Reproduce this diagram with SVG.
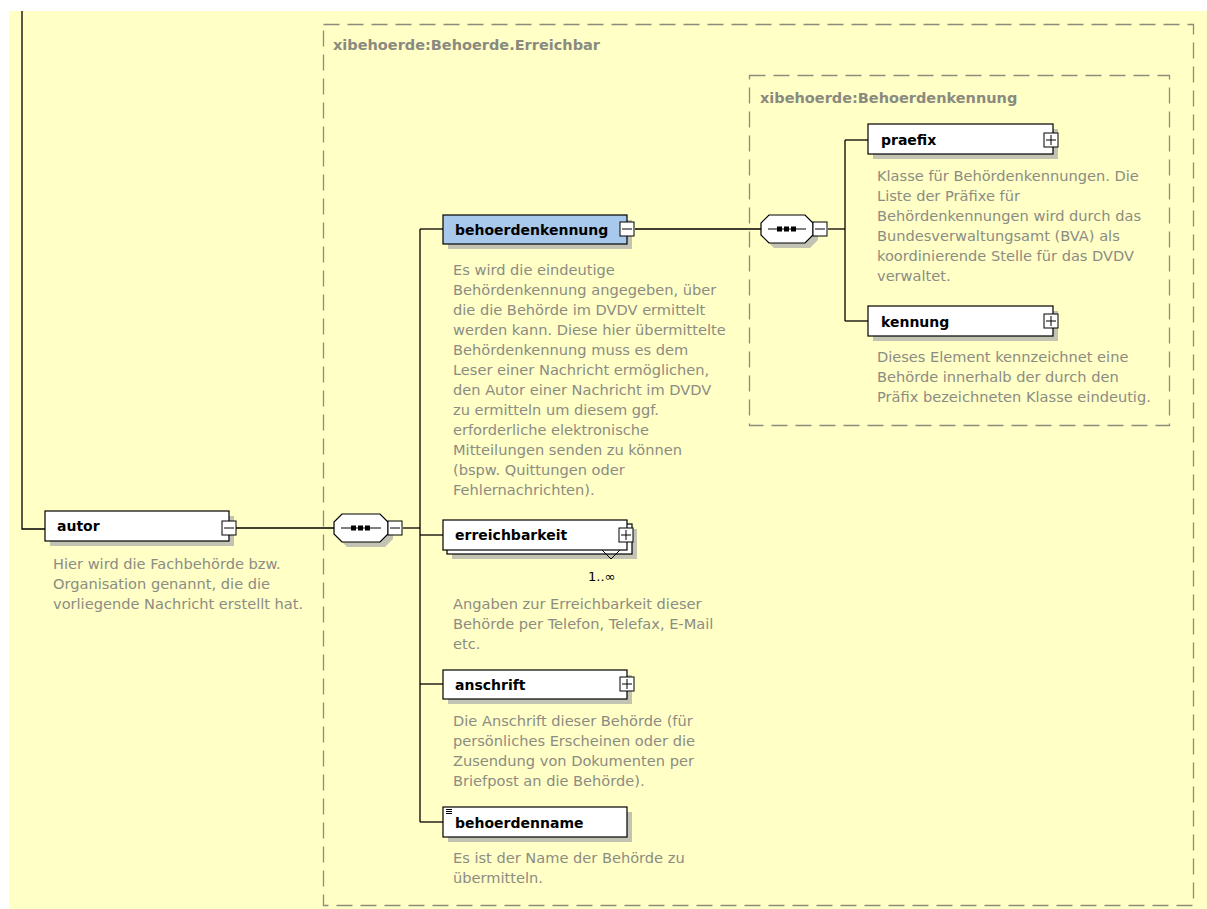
<svg xmlns="http://www.w3.org/2000/svg" width="1207" height="909" viewBox="0 0 1207 909">
  <style>
    .bg { fill: #ffffc6; }
    .frame { fill: none; stroke: #8c8c7c; stroke-width: 1.3; stroke-dasharray: 16 8; }
    .frame-label { font-family: "DejaVu Sans", sans-serif; font-size: 14.5px; font-weight: bold; fill: #8a8a80; }
    .shadow { fill: #c3c3b4; }
    .el { fill: #ffffff; stroke: #000000; stroke-width: 1.2; }
    .el-sel { fill: #a8c8ec; stroke: #000000; stroke-width: 1.2; }
    .name { font-family: "DejaVu Sans", sans-serif; font-size: 14px; font-weight: bold; fill: #000000; }
    .doc { font-family: "DejaVu Sans", sans-serif; font-size: 14.6px; fill: #8c8c84; }
    .btn { fill: #ffffff; stroke: #000000; stroke-width: 1; }
    .sign { stroke: #000000; stroke-width: 1; fill: none; }
    .wire { fill: none; stroke: #000000; stroke-width: 1.3; }
    .card { font-family: "DejaVu Sans", sans-serif; font-size: 13px; fill: #000000; }
  </style>

  <rect class="bg" x="9" y="11" width="1198" height="898"/>

  <!-- group frames -->
  <g id="group-erreichbar">
    <rect class="frame" x="323.5" y="24.5" width="870" height="881"/>
    <text class="frame-label" x="333" y="50">xibehoerde:Behoerde.Erreichbar</text>
  </g>
  <g id="group-kennung">
    <rect class="frame" x="749.5" y="75.5" width="420" height="350"/>
    <text class="frame-label" x="760" y="103">xibehoerde:Behoerdenkennung</text>
  </g>

  <!-- connectors -->
  <g id="connectors">
    <polyline class="wire" points="22,11 22,529 45,529"/>
    <line class="wire" x1="236" y1="528" x2="334" y2="528"/>
    <polyline class="wire" points="403,528 420,528"/>
    <line class="wire" x1="420" y1="229" x2="420" y2="822"/>
    <line class="wire" x1="420" y1="229" x2="443" y2="229"/>
    <line class="wire" x1="420" y1="535" x2="443" y2="535"/>
    <line class="wire" x1="420" y1="684" x2="443" y2="684"/>
    <line class="wire" x1="420" y1="822" x2="443" y2="822"/>
    <line class="wire" x1="635" y1="229" x2="761" y2="229"/>
    <line class="wire" x1="828" y1="229" x2="845" y2="229"/>
    <line class="wire" x1="845" y1="140" x2="845" y2="321"/>
    <line class="wire" x1="845" y1="140" x2="868" y2="140"/>
    <line class="wire" x1="845" y1="321" x2="868" y2="321"/>
  </g>

  <!-- autor -->
  <g id="node-autor">
    <rect class="shadow" x="50" y="516" width="184" height="30"/>
    <rect class="el" x="45" y="511" width="184" height="30"/>
    <text class="name" x="57" y="531">autor</text>
    <rect class="btn" x="222" y="521" width="14" height="14"/>
    <line class="sign" x1="224" y1="528" x2="234" y2="528"/>
    <text class="doc" x="53" y="569">Hier wird die Fachbehörde bzw.</text>
    <text class="doc" x="53" y="589">Organisation genannt, die die</text>
    <text class="doc" x="53" y="609">vorliegende Nachricht erstellt hat.</text>
  </g>

  <!-- sequence of autor -->
  <g id="seq-autor">
    <polygon class="shadow" points="347,519 385,519 393,527 393,539 385,547 347,547 339,539 339,527"/>
    <polygon class="el" points="342,514 380,514 388,522 388,534 380,542 342,542 334,534 334,522"/>
    <line class="sign" x1="341" y1="528" x2="381" y2="528" stroke-width="1.5"/>
    <rect x="351" y="525.5" width="5" height="5" fill="#000"/>
    <rect x="358" y="525.5" width="5" height="5" fill="#000"/>
    <rect x="365" y="525.5" width="5" height="5" fill="#000"/>
    <rect class="btn" x="388" y="521" width="14" height="14"/>
    <line class="sign" x1="390" y1="528" x2="400" y2="528"/>
  </g>

  <!-- behoerdenkennung -->
  <g id="node-behoerdenkennung">
    <rect class="shadow" x="448" y="220" width="184" height="29"/>
    <rect class="el-sel" x="443" y="215" width="184" height="29"/>
    <text class="name" x="455" y="235">behoerdenkennung</text>
    <rect class="btn" x="620" y="222" width="14" height="14"/>
    <line class="sign" x1="622" y1="229" x2="632" y2="229"/>
    <text class="doc" x="453" y="275">Es wird die eindeutige</text>
    <text class="doc" x="453" y="295">Behördenkennung angegeben, über</text>
    <text class="doc" x="453" y="315">die die Behörde im DVDV ermittelt</text>
    <text class="doc" x="453" y="335">werden kann. Diese hier übermittelte</text>
    <text class="doc" x="453" y="355">Behördenkennung muss es dem</text>
    <text class="doc" x="453" y="375">Leser einer Nachricht ermöglichen,</text>
    <text class="doc" x="453" y="395">den Autor einer Nachricht im DVDV</text>
    <text class="doc" x="453" y="415">zu ermitteln um diesem ggf.</text>
    <text class="doc" x="453" y="435">erforderliche elektronische</text>
    <text class="doc" x="453" y="455">Mitteilungen senden zu können</text>
    <text class="doc" x="453" y="475">(bspw. Quittungen oder</text>
    <text class="doc" x="453" y="495">Fehlernachrichten).</text>
  </g>

  <!-- sequence of behoerdenkennung -->
  <g id="seq-kennung">
    <polygon class="shadow" points="774,220 810,220 818,228 818,240 810,248 774,248 766,240 766,228"/>
    <polygon class="el" points="769,215 805,215 813,223 813,235 805,243 769,243 761,235 761,223"/>
    <line class="sign" x1="768" y1="229" x2="806" y2="229" stroke-width="1.5"/>
    <rect x="777" y="226.5" width="5" height="5" fill="#000"/>
    <rect x="784" y="226.5" width="5" height="5" fill="#000"/>
    <rect x="791" y="226.5" width="5" height="5" fill="#000"/>
    <rect class="btn" x="813" y="222" width="14" height="14"/>
    <line class="sign" x1="815" y1="229" x2="825" y2="229"/>
  </g>

  <!-- praefix -->
  <g id="node-praefix">
    <rect class="shadow" x="873" y="129" width="185" height="30"/>
    <rect class="el" x="868" y="124" width="185" height="30"/>
    <text class="name" x="881" y="145">praefix</text>
    <rect class="btn" x="1044" y="133" width="14" height="14"/>
    <line class="sign" x1="1046" y1="140" x2="1056" y2="140"/>
    <line class="sign" x1="1051" y1="135" x2="1051" y2="145"/>
    <text class="doc" x="877" y="181">Klasse für Behördenkennungen. Die</text>
    <text class="doc" x="877" y="201">Liste der Präfixe für</text>
    <text class="doc" x="877" y="221">Behördenkennungen wird durch das</text>
    <text class="doc" x="877" y="241">Bundesverwaltungsamt (BVA) als</text>
    <text class="doc" x="877" y="261">koordinierende Stelle für das DVDV</text>
    <text class="doc" x="877" y="281">verwaltet.</text>
  </g>

  <!-- kennung -->
  <g id="node-kennung">
    <rect class="shadow" x="873" y="311" width="185" height="30"/>
    <rect class="el" x="868" y="306" width="185" height="30"/>
    <text class="name" x="881" y="327">kennung</text>
    <rect class="btn" x="1044" y="314" width="14" height="14"/>
    <line class="sign" x1="1046" y1="321" x2="1056" y2="321"/>
    <line class="sign" x1="1051" y1="316" x2="1051" y2="326"/>
    <text class="doc" x="877" y="362">Dieses Element kennzeichnet eine</text>
    <text class="doc" x="877" y="382">Behörde innerhalb der durch den</text>
    <text class="doc" x="877" y="402">Präfix bezeichneten Klasse eindeutig.</text>
  </g>

  <!-- erreichbarkeit (1..unbounded) -->
  <g id="node-erreichbarkeit">
    <rect class="shadow" x="452" y="529" width="185" height="30"/>
    <rect class="el" x="447" y="524" width="185" height="30"/>
    <rect class="el" x="443" y="520" width="184" height="30"/>
    <text class="name" x="455" y="540">erreichbarkeit</text>
    <rect class="btn" x="619" y="528" width="14" height="14"/>
    <line class="sign" x1="621" y1="535" x2="631" y2="535"/>
    <line class="sign" x1="626" y1="530" x2="626" y2="540"/>
    <polyline class="sign" stroke-width="1.3" points="602,550 611,559 620,550"/>
    <text class="card" x="588" y="581">1..∞</text>
    <text class="doc" x="453" y="609">Angaben zur Erreichbarkeit dieser</text>
    <text class="doc" x="453" y="629">Behörde per Telefon, Telefax, E-Mail</text>
    <text class="doc" x="453" y="649">etc.</text>
  </g>

  <!-- anschrift -->
  <g id="node-anschrift">
    <rect class="shadow" x="448" y="675" width="184" height="29"/>
    <rect class="el" x="443" y="670" width="184" height="29"/>
    <text class="name" x="455" y="690">anschrift</text>
    <rect class="btn" x="620" y="677" width="14" height="14"/>
    <line class="sign" x1="622" y1="684" x2="632" y2="684"/>
    <line class="sign" x1="627" y1="679" x2="627" y2="689"/>
    <text class="doc" x="453" y="726">Die Anschrift dieser Behörde (für</text>
    <text class="doc" x="453" y="746">persönliches Erscheinen oder die</text>
    <text class="doc" x="453" y="766">Zusendung von Dokumenten per</text>
    <text class="doc" x="453" y="786">Briefpost an die Behörde).</text>
  </g>

  <!-- behoerdenname -->
  <g id="node-behoerdenname">
    <rect class="shadow" x="448" y="812" width="184" height="30"/>
    <rect class="el" x="443" y="807" width="184" height="30"/>
    <line class="sign" x1="446" y1="809.5" x2="452" y2="809.5"/>
    <line class="sign" x1="446" y1="811.5" x2="452" y2="811.5"/>
    <line class="sign" x1="446" y1="813.5" x2="452" y2="813.5"/>
    <text class="name" x="455" y="828">behoerdenname</text>
    <text class="doc" x="453" y="863">Es ist der Name der Behörde zu</text>
    <text class="doc" x="453" y="883">übermitteln.</text>
  </g>
</svg>
